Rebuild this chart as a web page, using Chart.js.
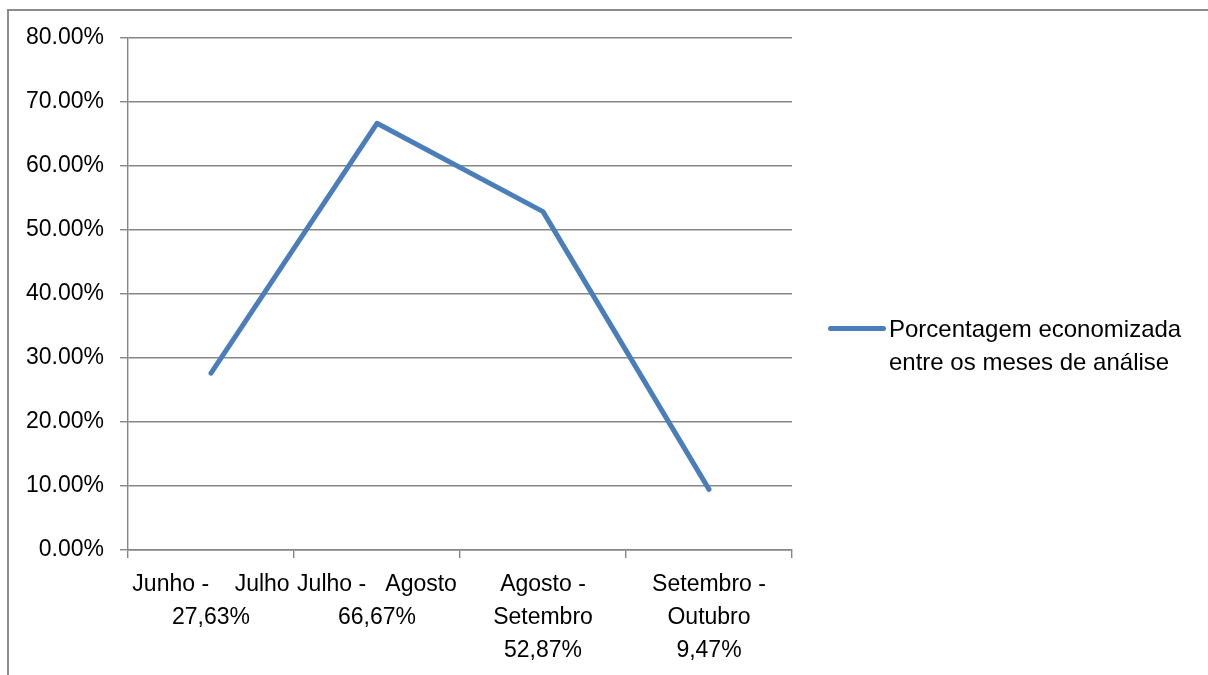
<!DOCTYPE html>
<html>
<head>
<meta charset="utf-8">
<script src="https://cdn.jsdelivr.net/npm/chart.js@4/dist/chart.umd.min.js"></script>
<style>
  html, body { margin: 0; padding: 0; background: #fff; overflow: hidden; }
  #wrap { position: relative; width: 1208px; height: 675px; }
  #frame { position: absolute; left: 7px; top: 9px; width: 1300px; height: 800px;
           border: 2px solid #8c8c8c; box-sizing: border-box; pointer-events: none; }
  #legend { position: absolute; left: 828px; top: 312px; font-family: "Liberation Sans", Arial, sans-serif;
            font-size: 24px; line-height: 33px; color: #000; }
  #legend .sample { position: absolute; left: 0; top: 14px; width: 58px; height: 5px; border-radius: 3px; }
  #legend .text { margin-left: 61px; white-space: nowrap; }
</style>
</head>
<body>
<div id="wrap">
  <canvas id="chart1" width="1208" height="675"></canvas>
  <div id="frame"></div>
  <div id="legend"></div>
</div>
<script>
// data
const categories = [
    ['Junho -\u00a0\u00a0\u00a0\u00a0Julho', '27,63%'],
    ['Julho -\u00a0\u00a0\u00a0Agosto', '66,67%'],
    ['Agosto -', 'Setembro', '52,87%'],
    ['Setembro -', 'Outubro', '9,47%']
];
const values = [27.63, 66.67, 52.87, 9.47];
const seriesLabel = ['Porcentagem economizada', 'entre os meses de análise'];
const lineColor = '#4a7ebb';

const font = { family: '"Liberation Sans", Arial, sans-serif', size: 23 };

const ctx = document.querySelector('#chart1');

const chart = new Chart(ctx, {
    type: 'line',
    data: {
        labels: categories,
        datasets: [{
            label: seriesLabel.join(' '),
            data: values,
            borderColor: lineColor,
            borderWidth: 5,
            borderCapStyle: 'round',
            borderJoinStyle: 'round',
            pointRadius: 0,
            tension: 0
        }]
    },
    options: {
        responsive: false,
        animation: false,
        layout: {
            padding: { left: 0, right: 416, top: 38, bottom: 0 }
        },
        plugins: {
            legend: { display: false },
            tooltip: { enabled: false }
        },
        scales: {
            y: {
                min: 0,
                max: 80,
                ticks: {
                    stepSize: 10,
                    color: '#000',
                    font: font,
                    padding: 16,
                    callback: (v) => v.toFixed(2) + '%'
                },
                grid: {
                    color: '#868686',
                    lineWidth: 1.4,
                    tickLength: 8
                },
                border: { color: '#868686', width: 1.4 },
                afterFit: (scale) => { scale.width = 128; }
            },
            x: {
                offset: true,
                ticks: {
                    color: '#000',
                    font: { ...font, lineHeight: 1.43 },
                    padding: 10,
                    maxRotation: 0,
                    autoSkip: false
                },
                grid: {
                    offset: true,
                    drawOnChartArea: false,
                    color: '#868686',
                    lineWidth: 1.4,
                    tickLength: 8
                },
                border: { color: '#868686', width: 1.4 },
                afterFit: (scale) => { scale.height = 125; }
            }
        }
    }
});

// legend as html, built from the dataset
const legend = document.querySelector('#legend');
const ds = chart.data.datasets[0];
legend.innerHTML = '<div class="sample" style="background:' + ds.borderColor + '"></div>' +
    '<div class="text">' + seriesLabel.join('<br>') + '</div>';
</script>
</body>
</html>
